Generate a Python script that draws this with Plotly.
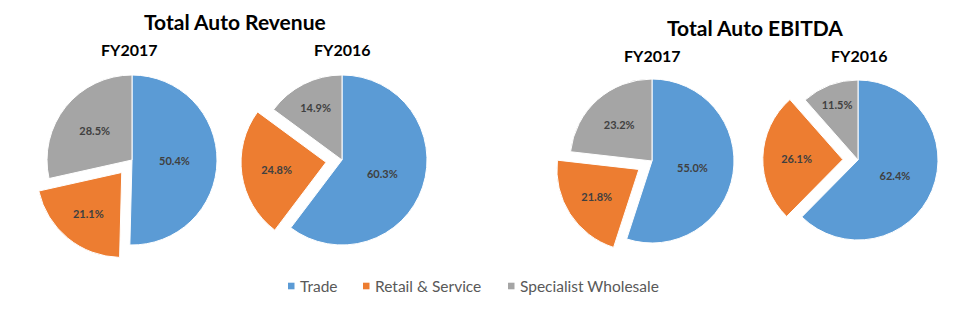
import plotly.graph_objects as go

segments = ["Trade", "Retail & Service", "Specialist Wholesale"]
rev_fy2017 = [50.4, 21.1, 28.5]
rev_fy2016 = [60.3, 24.8, 14.9]
ebitda_fy2017 = [55.0, 21.8, 23.2]
ebitda_fy2016 = [62.4, 26.1, 11.5]
group_titles = ["Total Auto Revenue", "Total Auto EBITDA"]
year_titles = ["FY2017", "FY2016"]

colors = ["#5B9BD5", "#ED7D31", "#A5A5A5"]
W, H = 975, 334
PULL = 0.19
FONT = "Lato, Carlito, 'Open Sans', sans-serif"


def domain(cx, cy, r):
    half = r * (1 + PULL)
    return dict(x=[(cx - half) / W, (cx + half) / W],
                y=[1 - (cy + half) / H, 1 - (cy - half) / H])


pies = [
    (rev_fy2017, 132, 160, 85),
    (rev_fy2016, 342, 160, 85),
    (ebitda_fy2017, 652, 161, 82),
    (ebitda_fy2016, 858, 160, 80),
]

fig = go.Figure()
for vals, cx, cy, r in pies:
    fig.add_trace(go.Pie(
        labels=segments, values=vals, sort=False, direction="clockwise",
        rotation=0, pull=[0, PULL, 0],
        marker=dict(colors=colors, line=dict(color="white", width=1)),
        texttemplate="%{value:.1f}%", textposition="inside",
        insidetextorientation="horizontal",
        textfont=dict(family=FONT, size=11, color="#404040", weight="bold"),
        hoverinfo="label+value", domain=domain(cx, cy, r), showlegend=False,
    ))

ann = []
for t, x, y in [(group_titles[0], 235, 22), (group_titles[1], 755, 27)]:
    ann.append(dict(text=f"<b>{t}</b>", x=x / W, y=1 - y / H, xref="paper", yref="paper",
                    showarrow=False, font=dict(family=FONT, size=21, color="#000000"),
                    xanchor="center", yanchor="middle"))
for t, x, y in [(year_titles[0], 129, 50), (year_titles[1], 342, 50),
                (year_titles[0], 652, 55), (year_titles[1], 859, 55)]:
    ann.append(dict(text=f"<b>{t}</b>", x=x / W, y=1 - y / H, xref="paper", yref="paper",
                    showarrow=False, font=dict(family=FONT, size=16, color="#000000"),
                    xanchor="center", yanchor="middle"))

# legend row: small square swatch + label
shapes = []
legend_x = [288, 363, 508]
LY = 286
for label, c, x in zip(segments, colors, legend_x):
    shapes.append(dict(type="rect", xref="paper", yref="paper",
                       x0=x / W, x1=(x + 6.5) / W, y0=1 - (LY + 3.3) / H, y1=1 - (LY - 3.3) / H,
                       fillcolor=c, line=dict(width=0)))
    ann.append(dict(
        text=label, x=(x + 10) / W, y=1 - LY / H, xref="paper", yref="paper", showarrow=False,
        font=dict(family=FONT, size=15.5, color="#595959"),
        xanchor="left", yanchor="middle"))

fig.update_layout(
    width=W, height=H, margin=dict(l=0, r=0, t=0, b=0),
    paper_bgcolor="white", plot_bgcolor="white",
    annotations=ann, shapes=shapes, showlegend=False,
)
fig.write_html("out.html")
